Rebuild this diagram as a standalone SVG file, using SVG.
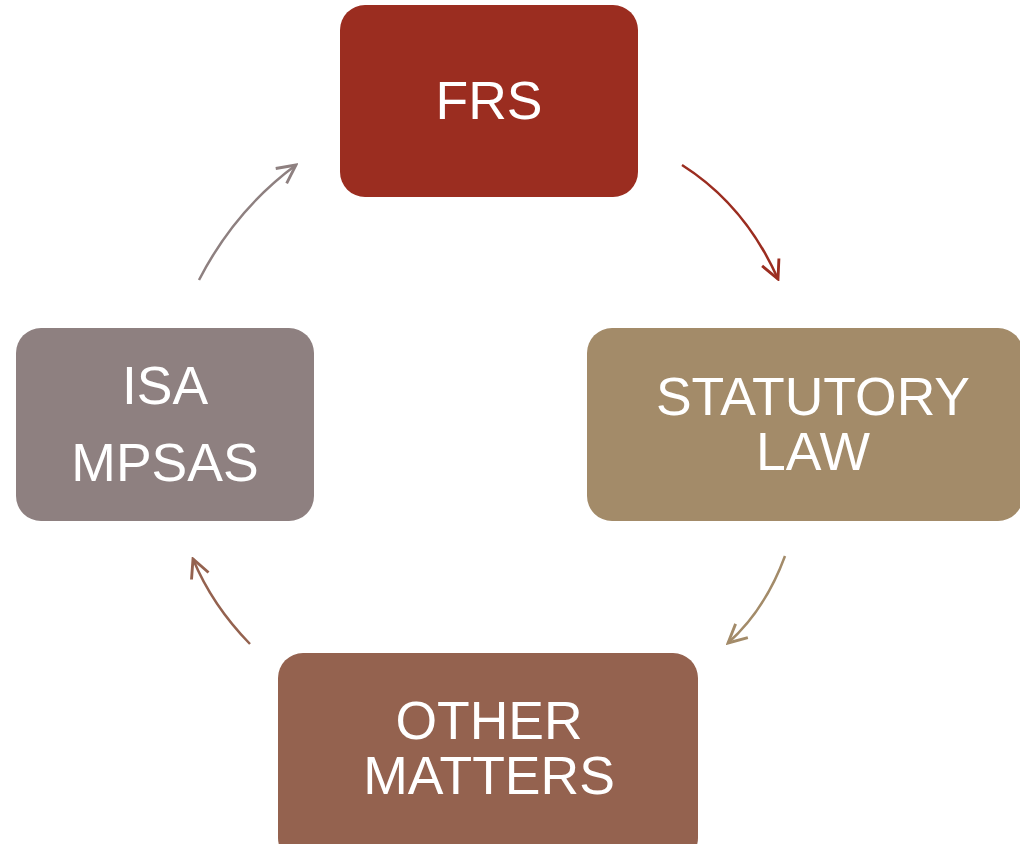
<svg xmlns="http://www.w3.org/2000/svg" width="1020" height="844" viewBox="0 0 1020 844">
<style>
.lbl{font-family:"Liberation Sans",Arial,sans-serif;font-size:53.5px;fill:#fff;text-anchor:middle}
.c{fill:none;stroke-width:2.5}
</style>
<defs>
<marker id="m1" viewBox="0 0 20 20" refX="18" refY="10" markerWidth="23" markerHeight="23" markerUnits="userSpaceOnUse" orient="auto"><path d="M2,2 L18,10 L2,18" fill="none" stroke="#9B2D20" stroke-width="2.5"/></marker>
<marker id="m2" viewBox="0 0 20 20" refX="18" refY="10" markerWidth="23" markerHeight="23" markerUnits="userSpaceOnUse" orient="auto"><path d="M2,2 L18,10 L2,18" fill="none" stroke="#A38B69" stroke-width="2.5"/></marker>
<marker id="m3" viewBox="0 0 20 20" refX="18" refY="10" markerWidth="23" markerHeight="23" markerUnits="userSpaceOnUse" orient="auto"><path d="M2,2 L18,10 L2,18" fill="none" stroke="#94624F" stroke-width="2.5"/></marker>
<marker id="m4" viewBox="0 0 20 20" refX="18" refY="10" markerWidth="23" markerHeight="23" markerUnits="userSpaceOnUse" orient="auto"><path d="M2,2 L18,10 L2,18" fill="none" stroke="#8E8080" stroke-width="2.5"/></marker>
</defs>
<rect width="1020" height="844" fill="#fff"/>
<g id="connectors">
<path class="c" stroke="#9B2D20" d="M682,165 Q745,205 778,279" marker-end="url(#m1)"/>
<path class="c" stroke="#A38B69" d="M785,556 Q765,610 728,643" marker-end="url(#m2)"/>
<path class="c" stroke="#94624F" d="M250,644 Q212,605 193,559" marker-end="url(#m3)"/>
<path class="c" stroke="#8E8080" d="M199,280 Q235,210 296,165" marker-end="url(#m4)"/>
</g>
<g id="frs">
<rect x="340" y="5" width="298" height="192" rx="25" fill="#9B2D20"/>
<text class="lbl" x="489" y="119">FRS</text>
</g>
<g id="statutory">
<rect x="587" y="328" width="436" height="193" rx="25" fill="#A38B69"/>
<text class="lbl" x="813" y="415">STATUTORY</text>
<text class="lbl" x="813" y="470">LAW</text>
</g>
<g id="isa">
<rect x="16" y="328" width="298" height="193" rx="25" fill="#8E8080"/>
<text class="lbl" x="165" y="404">ISA</text>
<text class="lbl" x="165" y="481">MPSAS</text>
</g>
<g id="other">
<rect x="278" y="653" width="420" height="210" rx="25" fill="#94624F"/>
<text class="lbl" x="489" y="739">OTHER</text>
<text class="lbl" x="489" y="794">MATTERS</text>
</g>
</svg>
